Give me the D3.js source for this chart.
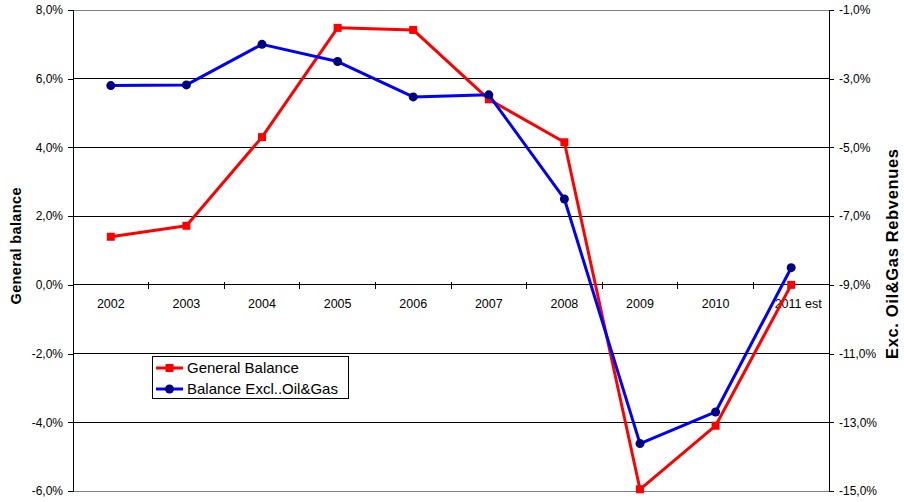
<!DOCTYPE html>
<html>
<head>
<meta charset="utf-8">
<script src="https://cdn.jsdelivr.net/npm/d3@7"></script>
<style>
html,body{margin:0;padding:0;background:#fff;}
svg{display:block;font-family:"Liberation Sans",Arial,sans-serif;}
</style>
</head>
<body>
<svg id="chart" width="904" height="502"></svg>
<script>
const categories = ["2002","2003","2004","2005","2006","2007","2008","2009","2010","2011 est"];
const generalBalance = [1.4, 1.72, 4.3, 7.48, 7.42, 5.4, 4.15, -5.95, -4.1, 0.0];
const balanceExclOilGas = [-3.2, -3.18, -2.0, -2.5, -3.53, -3.47, -6.5, -13.62, -12.7, -8.5];
const leftTicks = [-6, -4, -2, 0, 2, 4, 6, 8];
const rightTicks = [-15, -13, -11, -9, -7, -5, -3, -1];
const seriesNames = ["General Balance", "Balance Excl..Oil&Gas"];

const svg = d3.select("#chart");
const L = 73, R = 829, T = 10, B = 491;
const fmt = v => d3.format(".1f")(v).replace(".", ",").replace("−","-") + "%";

const x = d3.scaleBand().domain(categories).range([L, R]).paddingInner(0).paddingOuter(0);
const yL = d3.scaleLinear().domain([-6, 8]).range([B, T]);
const yR = d3.scaleLinear().domain([-15, -1]).range([B, T]);

// gridlines
svg.append("g").selectAll("line").data(leftTicks).join("line")
  .attr("x1", L).attr("x2", R)
  .attr("y1", d => yL(d)).attr("y2", d => yL(d))
  .attr("stroke", d => (d === 8 || d === -6) ? "#808080" : "#000")
  .attr("stroke-width", 1).attr("shape-rendering", "crispEdges");

// left axis
const gL = svg.append("g").attr("transform", `translate(${L},0)`)
  .call(d3.axisLeft(yL).tickValues(leftTicks).tickFormat(fmt).tickSize(5).tickPadding(5));
// right axis
const gR = svg.append("g").attr("transform", `translate(${R},0)`)
  .call(d3.axisRight(yR).tickValues(rightTicks).tickFormat(fmt).tickSize(5).tickPadding(5));
[gL, gR].forEach(g => {
  g.select(".domain").attr("stroke", "#000").attr("shape-rendering", "crispEdges");
  g.selectAll(".tick line").attr("stroke", "#000").attr("shape-rendering", "crispEdges");
  g.selectAll("text").attr("font-size", "12px").attr("fill", "#000")
    .attr("font-family", "'Liberation Sans', Arial, sans-serif");
});

// category axis on zero line
const y0 = yL(0);
svg.append("line").attr("x1", L).attr("x2", R).attr("y1", y0).attr("y2", y0)
  .attr("stroke", "#000").attr("shape-rendering", "crispEdges");
svg.append("g").selectAll("line").data(categories.slice(1)).join("line")
  .attr("x1", d => x(d)).attr("x2", d => x(d))
  .attr("y1", y0 - 3).attr("y2", y0 + 4)
  .attr("stroke", "#000").attr("shape-rendering", "crispEdges");
svg.append("g").selectAll("text").data(categories).join("text")
  .attr("x", d => x(d) + x.bandwidth() / 2 + (d === "2011 est" ? 7 : 0))
  .attr("y", y0 + 23)
  .attr("text-anchor", "middle").attr("font-size", "12.5px").attr("fill", "#000")
  .text(d => d);

// axis titles
svg.append("text").attr("transform", "translate(21,246) rotate(-90)")
  .attr("text-anchor", "middle").attr("font-size", "14.5px").attr("font-weight", "bold")
  .attr("textLength", 117).attr("lengthAdjust", "spacing")
  .text("General balance");
svg.append("text").attr("transform", "translate(898,254) rotate(-90)")
  .attr("text-anchor", "middle").attr("font-size", "16.5px").attr("font-weight", "bold")
  .attr("textLength", 210).attr("lengthAdjust", "spacing")
  .text("Exc. Oil&Gas Rebvenues");

// series
const cx = d => x(d) + x.bandwidth() / 2;
const redData = categories.map((c, i) => ({c, v: generalBalance[i]}));
const blueData = categories.map((c, i) => ({c, v: balanceExclOilGas[i]}));

svg.append("path").datum(redData)
  .attr("d", d3.line().x(d => cx(d.c)).y(d => yL(d.v)))
  .attr("fill", "none").attr("stroke", "#FF0000").attr("stroke-width", 3).attr("stroke-linejoin", "round");
svg.append("g").selectAll("rect").data(redData).join("rect")
  .attr("x", d => cx(d.c) - 4).attr("y", d => yL(d.v) - 4)
  .attr("width", 8).attr("height", 8).attr("fill", "#FF0000");

svg.append("path").datum(blueData)
  .attr("d", d3.line().x(d => cx(d.c)).y(d => yR(d.v)))
  .attr("fill", "none").attr("stroke", "#0000FF").attr("stroke-width", 3).attr("stroke-linejoin", "round");
svg.append("g").selectAll("circle").data(blueData).join("circle")
  .attr("cx", d => cx(d.c)).attr("cy", d => yR(d.v)).attr("r", 4.5)
  .attr("fill", "#000080");

// legend
const lg = svg.append("g");
lg.append("rect").attr("x", 152.5).attr("y", 356.5).attr("width", 196).attr("height", 42)
  .attr("fill", "#fff").attr("stroke", "#000").attr("stroke-width", 1);
const items = [
  {name: seriesNames[0], color: "#FF0000", marker: "rect", y: 368},
  {name: seriesNames[1], color: "#0000FF", marker: "circle", y: 389}
];
items.forEach(it => {
  lg.append("line").attr("x1", 156).attr("x2", 183).attr("y1", it.y).attr("y2", it.y)
    .attr("stroke", it.color).attr("stroke-width", 3);
  if (it.marker === "rect") {
    lg.append("rect").attr("x", 165.5).attr("y", it.y - 4).attr("width", 8).attr("height", 8).attr("fill", "#FF0000");
  } else {
    lg.append("circle").attr("cx", 169.5).attr("cy", it.y).attr("r", 4.5).attr("fill", "#000080");
  }
  lg.append("text").attr("x", 187).attr("y", it.y + 5).attr("font-size", "15px").attr("fill", "#000").text(it.name);
});
</script>
</body>
</html>
